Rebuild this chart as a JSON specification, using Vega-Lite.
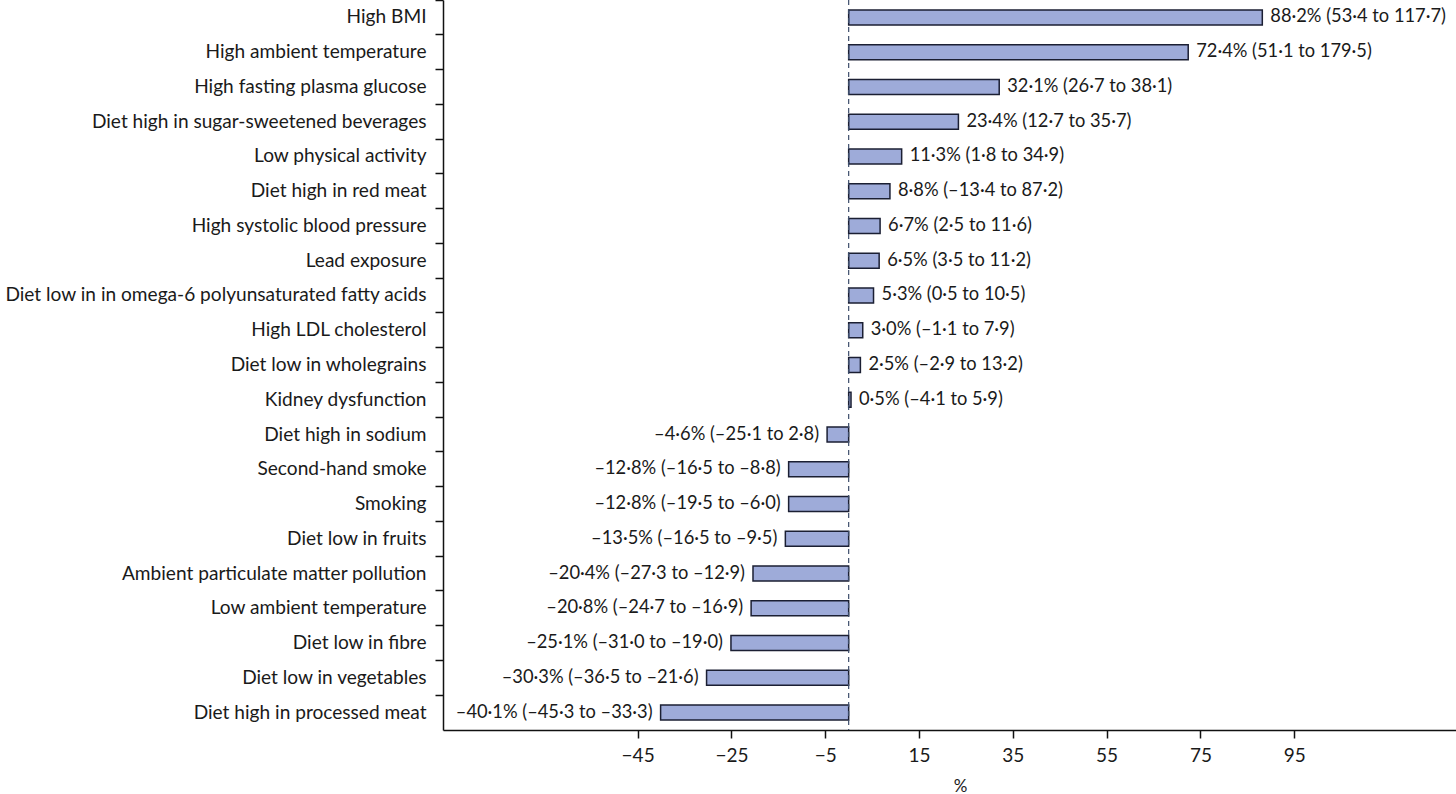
{
  "$schema": "https://vega.github.io/schema/vega-lite/v6.json",
  "autosize": "none",
  "width": 1013,
  "height": 730,
  "padding": {"left": 443, "top": 0, "right": 0, "bottom": 64},
  "background": "white",
  "config": {"view": {"stroke": null}, "font": "Lato"},
  "data": {"values": [
    {"factor": "High BMI", "value": 88.2, "label": "88·2% (53·4 to 117·7)"},
    {"factor": "High ambient temperature", "value": 72.4, "label": "72·4% (51·1 to 179·5)"},
    {"factor": "High fasting plasma glucose", "value": 32.1, "label": "32·1% (26·7 to 38·1)"},
    {"factor": "Diet high in sugar-sweetened beverages", "value": 23.4, "label": "23·4% (12·7 to 35·7)"},
    {"factor": "Low physical activity", "value": 11.3, "label": "11·3% (1·8 to 34·9)"},
    {"factor": "Diet high in red meat", "value": 8.8, "label": "8·8% (–13·4 to 87·2)"},
    {"factor": "High systolic blood pressure", "value": 6.7, "label": "6·7% (2·5 to 11·6)"},
    {"factor": "Lead exposure", "value": 6.5, "label": "6·5% (3·5 to 11·2)"},
    {"factor": "Diet low in in omega-6 polyunsaturated fatty acids", "value": 5.3, "label": "5·3% (0·5 to 10·5)"},
    {"factor": "High LDL cholesterol", "value": 3.0, "label": "3·0% (–1·1 to 7·9)"},
    {"factor": "Diet low in wholegrains", "value": 2.5, "label": "2·5% (–2·9 to 13·2)"},
    {"factor": "Kidney dysfunction", "value": 0.5, "label": "0·5% (–4·1 to 5·9)"},
    {"factor": "Diet high in sodium", "value": -4.6, "label": "–4·6% (–25·1 to 2·8)"},
    {"factor": "Second-hand smoke", "value": -12.8, "label": "–12·8% (–16·5 to –8·8)"},
    {"factor": "Smoking", "value": -12.8, "label": "–12·8% (–19·5 to –6·0)"},
    {"factor": "Diet low in fruits", "value": -13.5, "label": "–13·5% (–16·5 to –9·5)"},
    {"factor": "Ambient  particulate matter pollution", "value": -20.4, "label": "–20·4% (–27·3 to –12·9)"},
    {"factor": "Low ambient temperature", "value": -20.8, "label": "–20·8% (–24·7 to –16·9)"},
    {"factor": "Diet low in fibre", "value": -25.1, "label": "–25·1% (–31·0 to –19·0)"},
    {"factor": "Diet low in vegetables", "value": -30.3, "label": "–30·3% (–36·5 to –21·6)"},
    {"factor": "Diet high in processed meat", "value": -40.1, "label": "–40·1% (–45·3 to –33·3)"}
  ]},
  "encoding": {
    "y": {
      "field": "factor", "type": "nominal", "sort": null,
      "scale": {"paddingInner": 0, "paddingOuter": 0},
      "axis": {
        "title": null, "bandPosition": 0, "domainColor": "#111", "domainWidth": 1.5,
        "tickColor": "#111", "tickWidth": 1.5, "tickSize": 8, "labelPadding": 9,
        "labelFontSize": 19.1, "labelColor": "#1a1a1a", "labelFont": "Lato", "labelLimit": 0
      }
    }
  },
  "layer": [
    {
      "mark": {"type": "bar", "size": 15, "fill": "#9eabd9", "stroke": "#1b1f33", "strokeWidth": 1.5},
      "encoding": {
        "x": {
          "field": "value", "type": "quantitative",
          "scale": {"domain": [-86.5, 129.5], "nice": false, "zero": false},
          "axis": {
            "title": "%", "values": [-45, -25, -5, 15, 35, 55, 75, 95], "grid": false,
            "domainColor": "#111", "domainWidth": 1.5, "tickColor": "#111", "tickWidth": 1.5,
            "tickSize": 8, "labelPadding": 8, "labelFontSize": 19, "labelColor": "#1a1a1a",
            "labelFont": "Lato", "titleFont": "Lato", "titleFontSize": 17, "titleFontWeight": "normal",
            "titleColor": "#1a1a1a", "titleX": 517, "titleY": 56, "titleBaseline": "middle"
          }
        }
      }
    },
    {
      "data": {"values": [{"v": 0}]},
      "mark": {"type": "rule", "color": "#3d4d6b", "strokeWidth": 1.2, "strokeDash": [5, 4]},
      "encoding": {"x": {"field": "v", "type": "quantitative"}, "y": null}
    },
    {
      "transform": [{"filter": "datum.value >= 0"}],
      "mark": {"type": "text", "align": "left", "dx": 8, "fontSize": 18.3, "font": "Lato", "color": "#1a1a1a"},
      "encoding": {"x": {"field": "value", "type": "quantitative"}, "text": {"field": "label"}}
    },
    {
      "transform": [{"filter": "datum.value < 0"}],
      "mark": {"type": "text", "align": "right", "dx": -8, "fontSize": 18.3, "font": "Lato", "color": "#1a1a1a"},
      "encoding": {"x": {"field": "value", "type": "quantitative"}, "text": {"field": "label"}}
    }
  ]
}
